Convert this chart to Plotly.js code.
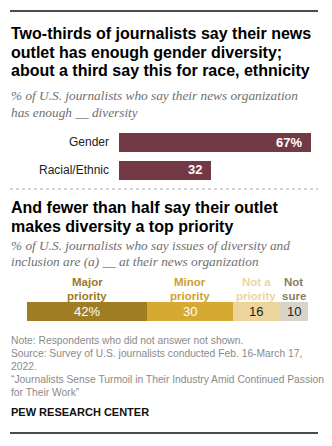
<!DOCTYPE html>
<html><head><meta charset="utf-8">
<script src="https://cdn.plot.ly/plotly-3.0.1.min.js"></script>
<style>html,body{margin:0;padding:0;background:#fff;}#chart{width:332px;height:446px;}</style>
</head><body><div id="chart"></div>
<script>
// Panel 1: has enough __ diversity
const diversityCategories = ["Gender", "Racial/Ethnic"];
const diversityValues = [67, 32];
const diversityLabels = ["67%", "32"];

// Panel 2: diversity priority
const priorityCategories = ["Major<br>priority", "Minor<br>priority", "Not a<br>priority", "Not<br>sure"];
const priorityValues = [42, 30, 16, 10];
const priorityLabels = ["42%", "30", "16", "10"];

const W = 332, H = 446;
const py = p => 1 - p / H;
const px = p => p / W;

const SANS = "Liberation Sans, Arial, sans-serif";
const SERIF = "Liberation Serif, Times New Roman, serif";

const segColors = ["#a07d22", "#d6a932", "#ecd49b", "#d8d4c8"];
const segHeadColors = ["#9c7b28", "#cda132", "#ead6a3", "#8a7f60"];
const segTextColors = ["#ffffff", "#ffffff", "#222222", "#222222"];

const traces = [];
traces.push({
  type: "bar", orientation: "h",
  x: diversityValues, y: diversityCategories,
  xaxis: "x", yaxis: "y",
  marker: {color: "#733945"}, width: 19 / 27.5,
  hoverinfo: "none", showlegend: false
});
priorityValues.forEach((v, i) => {
  traces.push({
    type: "bar", orientation: "h",
    x: [v], y: ["p"], xaxis: "x2", yaxis: "y2",
    marker: {color: segColors[i]}, width: 1,
    hoverinfo: "none", showlegend: false
  });
});

const ann = [];
function txt(text, x, y, size, color, family, opts) {
  ann.push(Object.assign({
    text: text, x: px(x), y: py(y), xref: "paper", yref: "paper",
    xanchor: "left", yanchor: "middle", showarrow: false,
    font: {size: size, color: color, family: family}
  }, opts || {}));
}
// Titles
txt("<b>Two-thirds of journalists say their news</b>", 9, 33.5, 16, "#000", SANS);
txt("<b>outlet has enough gender diversity;</b>", 9, 52, 16, "#000", SANS);
txt("<b>about a third say this for race, ethnicity</b>", 9, 70.5, 16, "#000", SANS);
txt("<i>% of U.S. journalists who say their news organization</i>", 9, 96, 13.3, "#6f6f6f", SERIF);
txt("<i>has enough __ diversity</i>", 9, 112, 13.3, "#6f6f6f", SERIF);

txt("<b>And fewer than half say their outlet</b>", 9, 207, 16, "#000", SANS);
txt("<b>makes diversity a top priority</b>", 9, 226, 16, "#000", SANS);
txt("<i>% of U.S. journalists who say issues of diversity and</i>", 9, 245, 13.3, "#6f6f6f", SERIF);
txt("<i>inclusion are (a) __ at their news organization</i>", 9, 261, 13.3, "#6f6f6f", SERIF);

// Category labels for top bars
diversityCategories.forEach((c, i) => {
  ann.push({text: c, x: 0, y: c, xref: "x", yref: "y", xanchor: "right", yanchor: "middle",
    xshift: -8, showarrow: false, font: {size: 12, color: "#222", family: SANS}});
  ann.push({text: "<b>" + diversityLabels[i] + "</b>", x: diversityValues[i], y: c, xref: "x", yref: "y",
    xanchor: "right", yanchor: "middle", xshift: -7, showarrow: false,
    font: {size: 13, color: "#fff", family: SANS}});
});

// Stacked bar labels
let cum = 0;
priorityValues.forEach((v, i) => {
  const mid = cum + v / 2;
  ann.push({text: priorityLabels[i], x: mid, y: "p", xref: "x2", yref: "y2",
    xanchor: "center", yanchor: "middle", showarrow: false,
    font: {size: 13, color: segTextColors[i], family: SANS}});
  const parts = priorityCategories[i].split("<br>");
  ann.push({text: "<b>" + parts[0] + "</b>", x: mid, y: py(281.5), xref: "x2", yref: "paper",
    xanchor: "center", yanchor: "middle", showarrow: false,
    font: {size: 11.5, color: segHeadColors[i], family: SANS}});
  ann.push({text: "<b>" + parts[1] + "</b>", x: mid, y: py(295.5), xref: "x2", yref: "paper",
    xanchor: "center", yanchor: "middle", showarrow: false,
    font: {size: 11.5, color: segHeadColors[i], family: SANS}});
  cum += v;
});

// Notes
const noteColor = "#8a8a8a";
txt("Note: Respondents who did not answer not shown.", 9, 340, 10.3, noteColor, SANS);
txt("Source: Survey of U.S. journalists conducted Feb. 16-March 17,", 9, 353, 10.3, noteColor, SANS);
txt("2022.", 9, 366, 10.3, noteColor, SANS);
txt("“Journalists Sense Turmoil in Their Industry Amid Continued Passion", 9, 379, 10.3, noteColor, SANS);
txt("for Their Work”", 9, 392, 10.3, noteColor, SANS);
txt("<b>PEW RESEARCH CENTER</b>", 9, 412, 11, "#111", SANS);

const shapes = [
  {type: "line", xref: "paper", yref: "paper", x0: px(10), x1: px(318), y0: py(11), y1: py(11), line: {color: "#111", width: 1.5}},
  {type: "line", xref: "paper", yref: "paper", x0: px(10), x1: px(318), y0: py(433), y1: py(433), line: {color: "#111", width: 1.5}},
  {type: "line", xref: "paper", yref: "paper", x0: px(10), x1: px(318), y0: py(189), y1: py(189), line: {color: "#aaaaaa", width: 1, dash: "dot"}}
];

const layout = {
  width: W, height: H,
  margin: {l: 0, r: 0, t: 0, b: 0},
  paper_bgcolor: "#fff", plot_bgcolor: "rgba(0,0,0,0)",
  barmode: "stack", bargap: 0,
  showlegend: false,
  xaxis: {domain: [px(119), px(318)], range: [0, (318 - 119) / 2.866], visible: false, fixedrange: true},
  yaxis: {domain: [py(128.75 + 55), py(128.75)], type: "category", categoryarray: diversityCategories,
    range: [1.5, -0.5], visible: false, fixedrange: true},
  xaxis2: {domain: [px(27), px(308)], range: [0, 98], visible: false, fixedrange: true, anchor: "y2"},
  yaxis2: {domain: [py(321), py(302)], type: "category", range: [-0.5, 0.5], visible: false, fixedrange: true, anchor: "x2"},
  annotations: ann, shapes: shapes
};

Plotly.newPlot("chart", traces, layout, {staticPlot: true, displayModeBar: false});
</script>
</body></html>
